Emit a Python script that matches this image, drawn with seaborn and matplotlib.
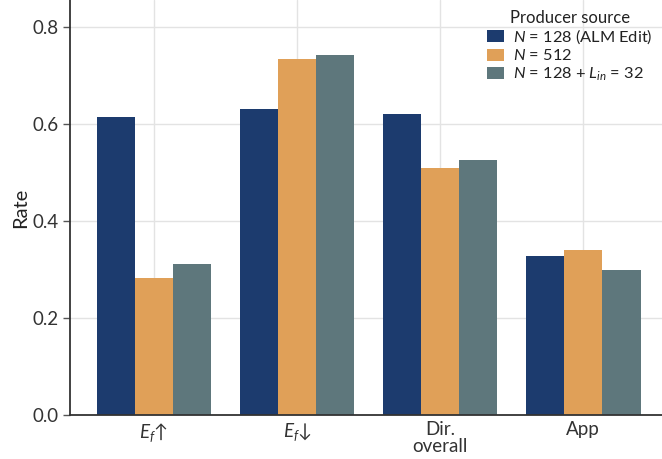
import matplotlib
matplotlib.use("Agg")
import matplotlib.pyplot as plt
import seaborn as sns
import pandas as pd

categories = [r"$E_f$↑", r"$E_f$↓", "Dir.\noverall", "App"]
series_names = [r"$N$ = 128 (ALM Edit)", r"$N$ = 512", r"$N$ = 128 + $L_{in}$ = 32"]
values_n128 = [0.613, 0.631, 0.621, 0.327]
values_n512 = [0.282, 0.734, 0.508, 0.339]
values_n128_lin32 = [0.311, 0.742, 0.526, 0.298]
colors = ["#1c3b6e", "#e0a058", "#5e777c"]

rows = []
for name, vals in zip(series_names, [values_n128, values_n512, values_n128_lin32]):
    for cat, v in zip(categories, vals):
        rows.append({"Category": cat, "Source": name, "Rate": v})
df = pd.DataFrame(rows)

sns.set_style("whitegrid")
plt.rcParams["font.family"] = ["Lato", "DejaVu Sans"]
plt.rcParams["mathtext.fontset"] = "custom"
plt.rcParams["mathtext.rm"] = "Lato"
plt.rcParams["mathtext.it"] = "Lato:italic"
plt.rcParams["mathtext.bf"] = "Lato:bold"

fig = plt.figure(figsize=(6.62, 4.59), dpi=100)
ax = fig.add_axes([70 / 662, 44 / 459, 592 / 662, 415 / 459])

sns.barplot(data=df, x="Category", y="Rate", hue="Source", palette=colors,
            width=0.8, saturation=1, linewidth=0, ax=ax, zorder=2)

ax.set_ylim(0, 0.855)
ax.set_xlim(-0.587, 3.55)
ax.set_yticks([0.0, 0.2, 0.4, 0.6, 0.8])
ax.set_yticklabels(["0.0", "0.2", "0.4", "0.6", "0.8"])
ax.set_xlabel("")
ax.set_ylabel("Rate", fontsize=14.5, color="#222222", labelpad=2)

ax.grid(True, color="#e3e3e3", linewidth=1.0, zorder=0)
ax.set_axisbelow(True)
for side in ["top", "right"]:
    ax.spines[side].set_visible(False)
for side in ["left", "bottom"]:
    ax.spines[side].set_visible(True)
    ax.spines[side].set_color("#333333")
    ax.spines[side].set_linewidth(1.3)

ax.tick_params(axis="y", which="both", left=True, length=5, width=1.0,
               color="#555555", labelsize=13.5, labelcolor="#333333")
ax.tick_params(axis="x", bottom=False, labelsize=13.5, labelcolor="#333333", pad=1)
for lbl in ax.get_xticklabels():
    lbl.set_linespacing(0.95)

leg = ax.legend(title="Producer source", loc="upper right", frameon=False,
                fontsize=11.8, title_fontsize=12, handlelength=1.05,
                handleheight=0.75, handletextpad=0.5, labelspacing=0.12,
                borderaxespad=0.2, bbox_to_anchor=(1.0, 1.0))
leg.get_title().set_color("#222222")
for t in leg.get_texts():
    t.set_color("#222222")

fig.savefig("out.png", dpi=100)
